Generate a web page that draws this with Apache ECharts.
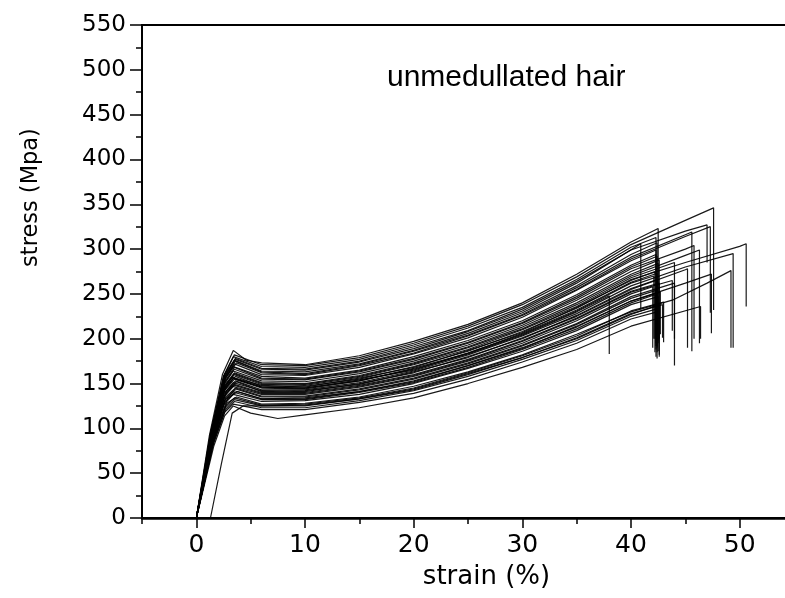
<!DOCTYPE html>
<html>
<head>
<meta charset="utf-8">
<script src="https://cdn.jsdelivr.net/npm/echarts@6/dist/echarts.min.js"></script>
<style>html,body{margin:0;padding:0;background:#fff}#chart{width:785px;height:598px}</style>
</head>
<body>
<div id="chart"></div>
<script>
// stress-strain curves [strain %, stress MPa]
const c01 = [[0,0],[1.2,92],[2.4,160],[3.4,187],[4.6,176],[6,173],[10,171],[15,181],[20,197],[25,216],[30,240],[35,272],[40,308],[42.5,323],[42.5,198]];
const c02 = [[0,0],[1.3,95],[2.5,158],[3.5,182],[6,171],[10,170],[15,179],[20,195],[25,214],[30,238],[35,269],[40,305],[45,332],[47.6,346],[47.6,232]];
const c03 = [[0,0],[1.4,98],[2.6,160],[3.6,178],[6,167],[10,166],[15,175],[20,191],[25,209],[30,233],[35,264],[40,299],[45,320],[47.0,327],[47.0,285]];
const c04 = [[0,0],[1.4,96],[2.6,158],[3.6,177],[6,166],[10,165],[15,174],[20,189],[25,208],[30,231],[35,262],[40.9,306],[40.9,233]];
const c05 = [[0,0],[1.5,100],[2.7,157],[3.7,173],[6,162],[10,160],[15,170],[20,184],[25,203],[30,226],[35,255],[40,289],[45,314],[47.3,325],[47.3,229]];
const c06 = [[0,0],[1.5,98],[2.7,158],[3.6,175],[6,163],[10,161],[15,171],[20,186],[25,204],[30,227],[35,257],[40,291],[45,316],[45.6,319],[45.6,186]];
const c07 = [[0,0],[1.4,95],[2.6,155],[3.5,172],[6,160],[10,159],[15,168],[20,183],[25,201],[30,224],[35,254],[40,287],[42.3,299],[42.3,180]];
const c08 = [[0,0],[1.5,97],[2.6,152],[3.5,168],[6,156],[10,155],[15,164],[20,178],[25,196],[30,218],[35,247],[40,280],[42.4,292],[42.4,190]];
const c09 = [[0,0],[1.4,92],[2.5,148],[3.4,164],[6,153],[10,152],[15,161],[20,175],[25,193],[30,215],[35,243],[40,275],[42.6,288],[42.6,200]];
const c10 = [[0,0],[1.5,96],[2.6,147],[3.5,161],[6,150],[10,149],[15,158],[20,172],[25,190],[30,211],[35,238],[40,270],[45,293],[46.3,299],[46.3,195]];
const c11 = [[0,0],[1.6,100],[2.7,146],[3.6,158],[6,147],[10,147],[15,155],[20,169],[25,186],[30,208],[35,234],[40,266],[45,285],[50,303],[50.6,306],[50.6,236]];
const c12 = [[0,0],[1.3,88],[2.4,142],[3.3,157],[6,148],[10,146],[15,156],[20,168],[25,187],[30,207],[35,235],[40,265],[42.2,275],[42.2,185]];
const c13 = [[0,0],[1.5,94],[2.6,142],[3.5,155],[6,145],[10,144],[15,153],[20,166],[25,183],[30,204],[35,230],[38.0,248],[38.0,183]];
const c14 = [[0,0],[1.6,97],[2.7,141],[3.6,153],[6,143],[10,143],[15,151],[20,164],[25,182],[30,203],[35,228],[40,259],[45,280],[49.4,295],[49.4,190]];
const c15 = [[0,0],[1.4,88],[2.5,138],[3.4,151],[6,142],[10,141],[15,150],[20,162],[25,180],[30,200],[35,226],[40,256],[42.4,266],[42.4,178]];
const c16 = [[0,0],[1.7,100],[2.8,142],[3.7,152],[6,141],[10,142],[15,149],[20,163],[25,179],[30,201],[35,225],[40,255],[45,277],[45.2,278],[45.2,190]];
const c17 = [[0,0],[1.5,90],[2.6,136],[3.5,148],[6,139],[10,139],[15,147],[20,159],[25,176],[30,197],[35,222],[40,252],[43.8,265],[43.8,209]];
const c18 = [[0,0],[1.3,84],[2.4,133],[3.3,147],[6,138],[10,138],[15,146],[20,158],[25,175],[30,195],[35,220],[40,250],[42.0,258],[42.0,190]];
const c19 = [[0,0],[1.6,93],[2.7,135],[3.6,145],[6,136],[10,136],[15,144],[20,156],[25,173],[30,193],[35,217],[40,247],[44.0,262],[44.0,170]];
const c20 = [[0,0],[1.5,88],[2.6,131],[3.5,142],[6,133],[10,133],[15,141],[20,153],[25,170],[30,190],[35,213],[40,242],[42.7,252],[42.7,205]];
const c21 = [[0,0],[1.8,98],[2.9,134],[3.8,141],[6,133],[10,134],[15,141],[20,152],[25,170],[30,189],[35,214],[40,242],[45,262],[47.4,272],[47.4,206]];
const c22 = [[0,0],[1.4,82],[2.5,126],[3.4,138],[6,130],[10,131],[15,138],[20,150],[25,167],[30,186],[35,209],[40,238],[42.5,247],[42.5,195]];
const c23 = [[0,0],[1.7,92],[2.8,128],[3.7,135],[6,127],[10,128],[15,135],[20,147],[25,163],[30,182],[35,205],[40,230],[43.8,243],[47,262],[49.2,276],[49.2,190]];
const c24 = [[0,0],[1.5,84],[2.6,122],[3.5,132],[6,125],[10,125],[15,133],[20,143],[25,160],[30,179],[35,201],[40,228],[42.9,238],[42.9,201]];
const c25 = [[0,0],[1.6,85],[2.7,121],[3.5,130],[6,123],[10,123],[15,131],[20,142],[25,158],[30,177],[35,198],[40,225],[42.3,233],[42.3,192]];
const c26 = [[0,0],[1.6,80],[2.6,114],[3.4,125],[5,117],[7.5,111],[10,115],[15,123],[20,134],[25,150],[30,168],[35,188],[40,214],[46.4,236],[46.4,200]];
const c27 = [[0,0],[1.5,80],[2.6,118],[3.4,127],[6,121],[10,121],[15,129],[20,139],[25,155],[30,174],[35,195],[40,222],[42.4,230],[42.4,185]];
const c28 = [[0,0],[1.4,90],[2.5,141],[3.4,156],[6,146],[10,145],[15,154],[20,165],[25,184],[30,205],[35,231],[40,262],[42.1,270],[42.1,200]];
const c29 = [[0,0],[1.5,95],[2.6,146],[3.5,160],[6,149],[10,148],[15,157],[20,171],[25,188],[30,210],[35,236],[40,268],[44.0,285],[44.0,200]];
const c30 = [[1.3,0],[2.3,60],[3.3,117],[4.3,125],[6,125],[10,126],[15,133],[20,144],[25,161],[30,179],[35,200],[40,227],[42.6,238],[42.6,180]];
const c31 = [[0,0],[1.4,94],[2.5,152],[3.4,169],[6,158],[10,156],[15,165],[20,180],[25,198],[30,220],[35,249],[40,282],[42.3,294],[42.3,195]];
const c32 = [[0,0],[1.5,95],[2.6,148],[3.5,162],[6,151],[10,150],[15,159],[20,173],[25,191],[30,213],[35,240],[40,272],[42.5,284],[42.5,186]];
const c33 = [[0,0],[1.4,90],[2.5,142],[3.4,156],[6,146],[10,145],[15,153],[20,167],[25,184],[30,206],[35,232],[40,263],[42.4,273],[42.4,192]];
const c34 = [[0,0],[1.5,90],[2.6,137],[3.5,149],[6,140],[10,140],[15,148],[20,160],[25,177],[30,198],[35,223],[40,253],[42.6,262],[42.6,182]];
const c35 = [[0,0],[1.6,90],[2.7,133],[3.6,144],[6,135],[10,135],[15,143],[20,155],[25,172],[30,192],[35,216],[40,245],[42.3,254],[42.3,188]];
const c36 = [[0,0],[1.5,86],[2.6,129],[3.5,140],[6,132],[10,132],[15,140],[20,151],[25,168],[30,188],[35,211],[40,240],[42.2,249],[42.2,200]];
const c37 = [[0,0],[1.6,86],[2.7,125],[3.5,134],[6,126],[10,127],[15,134],[20,145],[25,162],[30,181],[35,203],[40,231],[43.0,241],[43.0,196]];
const c38 = [[0,0],[1.4,96],[2.6,157],[3.5,176],[6,164],[10,163],[15,172],[20,187],[25,206],[30,229],[35,259],[40,294],[42.4,307],[42.4,210]];
const c39 = [[0,0],[1.5,96],[2.6,151],[3.5,166],[6,155],[10,154],[15,163],[20,177],[25,195],[30,217],[35,245],[40,278],[45,300],[45.8,304],[45.8,200]];
const c40 = [[0,0],[1.3,94],[2.5,158],[3.4,180],[6,169],[10,168],[15,177],[20,193],[25,212],[30,235],[35,266],[40,302],[42.3,313],[42.3,205]];

const curves = [c01,c02,c03,c04,c05,c06,c07,c08,c09,c10,c11,c12,c13,c14,c15,c16,c17,c18,c19,c20,
                c21,c22,c23,c24,c25,c26,c27,c28,c29,c30,c31,c32,c33,c34,c35,c36,c37,c38,c39,c40];

const xTickLabels = [0, 10, 20, 30, 40, 50];
const yTickLabels = [0, 50, 100, 150, 200, 250, 300, 350, 400, 450, 500, 550];

const chart = echarts.init(document.getElementById('chart'), null, {renderer: 'canvas'});
const labelFont = 'DejaVu Sans';
const option = {
  animation: false,
  backgroundColor: '#fff',
  title: {
    text: 'unmedullated hair',
    left: 382, top: 58,
    textStyle: {fontFamily: 'Liberation Sans', fontSize: 30, fontWeight: 'normal', color: '#000'}
  },
  grid: [
    {left: 142, top: 25, width: 652, height: 493, show: true, borderColor: '#000', borderWidth: 2, outerBoundsMode: 'none', containLabel: false},
    {left: 196.33, top: 25, width: 597.67, height: 493, show: false, outerBoundsMode: 'none', containLabel: false}
  ],
  xAxis: [
    {
      type: 'value', gridIndex: 0, min: -5, max: 55, interval: 5,
      name: 'strain (%)', nameLocation: 'middle', nameGap: 46,
      nameTextStyle: {fontFamily: labelFont, fontSize: 26, color: '#000', padding: [0, 0, 0, 37]},
      axisLine: {show: true, onZero: false, lineStyle: {color: '#000', width: 2.5}},
      axisTick: {show: true, length: 6, lineStyle: {color: '#000', width: 1.5}},
      axisLabel: {show: false},
      splitLine: {show: false}
    },
    {
      type: 'value', gridIndex: 1, min: 0, max: 55, interval: 10,
      axisLine: {show: false},
      axisTick: {show: true, length: 10, lineStyle: {color: '#000', width: 1.5}},
      axisLabel: {
        show: true, margin: 15, fontFamily: labelFont, fontSize: 25, color: '#000',
        formatter: v => xTickLabels.includes(v) ? String(v) : ''
      },
      splitLine: {show: false}
    }
  ],
  yAxis: [
    {
      type: 'value', gridIndex: 0, min: 0, max: 550, interval: 50,
      name: 'stress (Mpa)', nameLocation: 'middle', nameGap: 99,
      nameTextStyle: {fontFamily: labelFont, fontSize: 22.5, color: '#000', padding: [0, 0, 0, 148]},
      axisLine: {show: true, onZero: false, lineStyle: {color: '#000', width: 2}},
      axisTick: {show: true, length: 12, lineStyle: {color: '#000', width: 1.5}},
      minorTick: {show: true, splitNumber: 2, length: 6, lineStyle: {color: '#000', width: 1.5}},
      axisLabel: {
        margin: 16, fontFamily: labelFont, fontSize: 23, color: '#000',
        formatter: v => yTickLabels.includes(v) ? String(v) : ''
      },
      splitLine: {show: false}
    },
    {type: 'value', gridIndex: 1, min: 0, max: 550, show: false}
  ],
  series: curves.map((c, i) => ({
    type: 'line', name: 'hair ' + (i + 1), xAxisIndex: 0, yAxisIndex: 0,
    data: c, symbol: 'none', smooth: false, clip: true,
    lineStyle: {color: '#000', width: 1.2, opacity: 0.9},
    emphasis: {disabled: true}
  }))
};
chart.setOption(option);
</script>
</body>
</html>
